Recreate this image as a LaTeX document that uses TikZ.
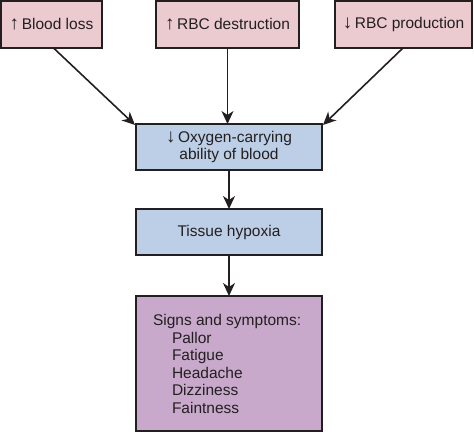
\documentclass[tikz,border=0pt]{standalone}
\usepackage{fontspec}
\setmainfont{Liberation Sans}
\usetikzlibrary{arrows.meta}
\definecolor{pinkfill}{HTML}{EBCBD0}
\definecolor{bluefill}{HTML}{BCCFE6}
\definecolor{purplefill}{HTML}{C8A9CB}
\definecolor{ink}{HTML}{231F20}
\newcommand{\upar}{{\fontsize{19}{17.5}\selectfont ↑}}
\newcommand{\dnar}{{\fontsize{19}{17.5}\selectfont ↓}}
\begin{document}
\begin{tikzpicture}[x=1pt,y=-1pt,
  box/.style={draw=ink, line width=2pt, inner sep=0pt, outer sep=0pt,
    font=\fontsize{15.5}{17.5}\selectfont, text=ink, align=center},
  cause/.style={box, fill=pinkfill, minimum height=46.5pt},
  mid/.style={box, fill=bluefill, minimum width=186pt, minimum height=46pt},
  txt/.style={inner sep=0pt, outer sep=0pt, font=\fontsize{15.5}{17.5}\selectfont, text=ink},
  arr/.style={draw=ink, line width=1.6pt, -{Stealth[length=13pt,width=12pt,inset=4pt]}}]
\useasboundingbox (0,0) rectangle (474,434);
\node[cause, minimum width=101pt] (b1) at (51.5,24.25) {\upar\,Blood loss};
\node[cause, minimum width=143pt] (b2) at (227.5,24.25) {\upar\,RBC destruction};
\node[cause, minimum width=137pt] (b3) at (403.5,24.25) {\dnar\,RBC production};
\node[mid] (oxy) at (229,147) {\dnar\,Oxygen-carrying\\ability of blood};
\node[mid] (tis) at (229,232) {Tissue hypoxia};
\node[box, fill=purplefill, minimum width=186pt, minimum height=135pt] (signs) at (229,363.5) {};
\node[txt, anchor=north west, align=left] (signstxt) at (153,314.5)
  {Signs and symptoms:\\\hspace*{19pt}Pallor\\\hspace*{19pt}Fatigue\\\hspace*{19pt}Headache\\\hspace*{19pt}Dizziness\\\hspace*{19pt}Faintness};
\draw[arr] ([xshift=1.5pt]b1.south) -- ([xshift=-1pt,yshift=-1pt]oxy.north west);
\draw[arr] (b2.south) -- (b2.south |- oxy.north);
\draw[arr] (b3.south) -- ([xshift=1pt,yshift=-1pt]oxy.north east);
\draw[arr] (oxy.south) -- (tis.north);
\draw[arr] (tis.south) -- (signs.north);
\end{tikzpicture}
\end{document}
